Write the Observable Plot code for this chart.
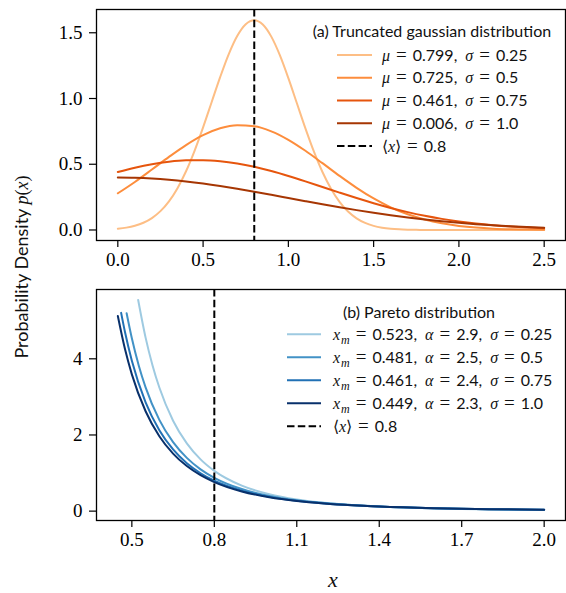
<!DOCTYPE html>
<html>
<head>
<meta charset="utf-8">
<script src="https://cdn.jsdelivr.net/npm/d3@7"></script>
<script src="https://cdn.jsdelivr.net/npm/@observablehq/plot@0.6"></script>
<style>
  html, body { margin: 0; padding: 0; background: white; }
  #fig { position: relative; width: 566px; height: 593px; background: white; overflow: hidden; }
  #fig > svg { position: absolute; left: 0; }
</style>
</head>
<body>
<div id="fig"></div>
<script>
// ---------- data ----------
const meanX = 0.8;

// (a) truncated gaussian densities
const gaussXFine = [0,0.05,0.1,0.15,0.2,0.25,0.3,0.35,0.4,0.45,0.5,0.55,0.6,0.65,0.7,0.75,0.8,0.85,0.9,0.95,1.0,1.05,1.1,1.15,1.2,1.25,1.3,1.35,1.4,1.45,1.5,1.55,1.6,1.65,1.7,1.75,1.8,1.85,1.9,1.95,2.0,2.05,2.1,2.15,2.2,2.25,2.3,2.35,2.4,2.45,2.5];
const gaussX = [0,0.1,0.2,0.3,0.4,0.5,0.6,0.7,0.8,0.9,1.0,1.1,1.2,1.3,1.4,1.5,1.6,1.7,1.8,1.9,2.0,2.1,2.2,2.3,2.4,2.5];
const gauss1 = [0.0097,0.0179,0.0320,0.0549,0.0905,0.1432,0.2177,0.3180,0.4465,0.6023,0.7805,0.9717,1.1625,1.3362,1.4755,1.5655,1.5958,1.5629,1.4707,1.3298,1.1551,0.9640,0.7730,0.5956,0.4409,0.3136,0.2143,0.1406,0.0887,0.0538,0.0313,0.0175,0.0094,0.0049,0.0024,0.0011,0.0005,0.0002,0.0001,0,0,0,0,0,0,0,0,0,0,0,0];
const gauss2 = [0.2789,0.3653,0.4598,0.5560,0.6459,0.7211,0.7733,0.7969,0.7890,0.7505,0.6859,0.6023,0.5081,0.4119,0.3208,0.2400,0.1726,0.1192,0.0791,0.0504,0.0309,0.0182,0.0103,0.0056,0.0029,0.0015];
const gauss3 = [0.4404,0.4737,0.5006,0.5198,0.5301,0.5312,0.5229,0.5056,0.4803,0.4482,0.4108,0.3700,0.3273,0.2845,0.2429,0.2038,0.1679,0.1359,0.1081,0.0844,0.0648,0.0488,0.0362,0.0263,0.0188,0.0132];
const gauss4 = [0.3989,0.3971,0.3915,0.3820,0.3691,0.3531,0.3344,0.3135,0.2911,0.2675,0.2434,0.2193,0.1956,0.1727,0.1510,0.1307,0.1120,0.0950,0.0798,0.0663,0.0546,0.0445,0.0359,0.0287,0.0227,0.0178];
const gaussMu = ["0.799","0.725","0.461","0.006"];
const gaussSigma = ["0.25","0.5","0.75","1.0"];
const gaussColors = ["#fdbe85","#fd8d3c","#e6550d","#a63603"];

// (b) pareto densities
const paretoX1 = [0.523,0.55,0.575,0.6,0.65,0.7,0.75,0.8,0.9,1.0,1.1,1.2,1.3,1.4,1.6,1.8,2.0];
const pareto1  = [5.545,4.556,3.832,3.246,2.375,1.779,1.359,1.057,0.668,0.443,0.305,0.217,0.159,0.119,0.071,0.045,0.030];
const paretoX2 = [0.481,0.5,0.525,0.55,0.6,0.65,0.7,0.75,0.8,0.9,1.0,1.1,1.2,1.3,1.4,1.6,1.8,2.0];
const pareto2  = [5.198,4.539,3.826,3.251,2.397,1.812,1.398,1.098,0.876,0.580,0.401,0.287,0.212,0.160,0.124,0.078,0.051,0.036];
const paretoX3 = [0.461,0.475,0.5,0.55,0.6,0.65,0.7,0.75,0.8,0.9,1.0,1.1,1.2,1.3,1.4,1.6,1.8,2.0];
const pareto3  = [5.206,4.702,3.950,2.857,2.125,1.619,1.258,0.995,0.799,0.535,0.374,0.271,0.201,0.153,0.119,0.076,0.051,0.036];
const paretoX4 = [0.449,0.475,0.5,0.55,0.6,0.65,0.7,0.75,0.8,0.9,1.0,1.1,1.2,1.3,1.4,1.6,1.8,2.0];
const pareto4  = [5.123,4.255,3.592,2.623,1.968,1.511,1.183,0.943,0.762,0.516,0.365,0.266,0.200,0.153,0.120,0.077,0.052,0.037];
const paretoXm = ["0.523","0.481","0.461","0.449"];
const paretoAlpha = ["2.9","2.5","2.4","2.3"];
const paretoSigma = ["0.25","0.5","0.75","1.0"];
const paretoColors = ["#9ecae1","#4292c6","#2171b5","#08306b"];

// ticks
const topXTicks = [0,0.5,1.0,1.5,2.0,2.5];
const topYTicks = [0,0.5,1.0,1.5];
const botXTicks = [0.5,0.8,1.1,1.4,1.7,2.0];
const botYTicks = [0,2,4];

const titleA = "(a) Truncated gaussian distribution";
const titleB = "(b) Pareto distribution";
const yLabelText = "Probability Density ";
const xLabelText = "x";

// ---------- build tables ----------
function series(xs, ys, k) { return xs.map((x, i) => ({x, y: ys[i], k})); }
const gaussData = [
  ...series(gaussXFine, gauss1, 0),
  ...series(gaussX, gauss2, 1),
  ...series(gaussX, gauss3, 2),
  ...series(gaussX, gauss4, 3)
];
const paretoData = [
  ...series(paretoX1, pareto1, 0),
  ...series(paretoX2, pareto2, 1),
  ...series(paretoX3, pareto3, 2),
  ...series(paretoX4, pareto4, 3)
];

const SERIF = "Liberation Serif";
const SANS = "Lato";
const DASH = "7.5,3.3";
const TICK_FS = 19;

const fig = document.getElementById("fig");

const common = {
  width: 566,
  marginLeft: 96,
  marginRight: 1,
  style: {fontFamily: SERIF, fontSize: TICK_FS + "px", color: "black", background: "transparent", overflow: "visible"}
};
const axisOpts = {tickSize: 7, label: null, strokeWidth: 1.2, fontSize: TICK_FS, fontFamily: SERIF};

const topPlot = Plot.plot({
  ...common,
  height: 280,
  marginTop: 9,
  marginBottom: 40,
  x: {domain: [-0.125, 2.625]},
  y: {domain: [-0.08, 1.677]},
  marks: [
    Plot.line(gaussData, {x: "x", y: "y", z: "k", stroke: d => gaussColors[d.k], strokeWidth: 2, curve: "monotone-x"}),
    Plot.ruleX([meanX], {stroke: "black", strokeWidth: 2, strokeDasharray: DASH}),
    Plot.axisX({...axisOpts, ticks: topXTicks, tickFormat: d3.format(".1f"), tickPadding: 5}),
    Plot.axisY({...axisOpts, ticks: topYTicks, tickFormat: d3.format(".1f"), tickPadding: 7}),
    Plot.frame({stroke: "black", strokeWidth: 1.3})
  ]
});
topPlot.style.top = "0px";
fig.appendChild(topPlot);

const botPlot = Plot.plot({
  ...common,
  height: 313,
  marginTop: 9,
  marginBottom: 73,
  x: {domain: [0.3714, 2.0776]},
  y: {domain: [-0.246, 5.82]},
  marks: [
    Plot.line(paretoData, {x: "x", y: "y", z: "k", stroke: d => paretoColors[d.k], strokeWidth: 2, curve: "monotone-x"}),
    Plot.ruleX([meanX], {stroke: "black", strokeWidth: 2, strokeDasharray: DASH}),
    Plot.axisX({...axisOpts, ticks: botXTicks, tickFormat: d3.format(".1f"), tickPadding: 5}),
    Plot.axisY({...axisOpts, ticks: botYTicks, tickFormat: d3.format("d"), tickPadding: 7}),
    Plot.frame({stroke: "black", strokeWidth: 1.3})
  ]
});
botPlot.style.top = "280px";
fig.appendChild(botPlot);

// ---------- overlay: legends and axis labels ----------
const ov = d3.select(fig).append("svg")
  .attr("width", 566).attr("height", 593)
  .style("top", "0px").style("pointer-events", "none");

// parts: [text, kind, dx]
function rich(sel, parts) {
  let sub = false;
  parts.forEach(([s, kind, dx]) => {
    const t = sel.append("tspan").text(s);
    if (dx) t.attr("dx", dx);
    if (kind === "m") t.style("font-family", SERIF).style("font-style", "italic");
    else if (kind === "r") t.style("font-family", SERIF);
    else if (kind === "eq") t.style("font-family", SERIF).style("font-size", "19px");
    else if (kind === "sub") t.style("font-family", SERIF).style("font-style", "italic").style("font-size", "12px");
    else t.style("font-family", SANS);
    if (kind === "sub") { t.attr("dy", 4); sub = true; }
    else if (sub) { t.attr("dy", -4); sub = false; }
  });
}

const LEG_FS = 16;
const EQ = 6, CM = 8;
function legend(opts) {
  const g = ov.append("g").style("font-size", LEG_FS + "px").attr("fill", "#111");
  g.append("text").attr("x", opts.titleX).attr("y", opts.titleY).attr("dy", "0.35em")
    .attr("text-anchor", "middle").style("font-family", SANS).text(opts.title);
  opts.rows.forEach((parts, i) => {
    const y = opts.y0 + i * opts.dy;
    g.append("line").attr("x1", opts.lx1).attr("x2", opts.lx2).attr("y1", y).attr("y2", y)
      .attr("stroke", opts.colors[i]).attr("stroke-width", 2)
      .attr("stroke-dasharray", opts.colors[i] === "black" ? DASH : null);
    const t = g.append("text").attr("x", opts.tx).attr("y", y).attr("dy", "0.35em");
    rich(t, parts);
  });
}

const meanRow = [["\u27E8", "r"], ["x", "m"], ["\u27E9", "r"], ["=", "eq", EQ], [String(meanX), "s", EQ]];

legend({
  title: titleA, titleX: 432, titleY: 31,
  lx1: 337, lx2: 372, tx: 382, y0: 55, dy: 22.75,
  colors: [...gaussColors, "black"],
  rows: [
    ...gaussMu.map((m, i) => [["\u03BC", "m"], ["=", "eq", EQ], [m + ",", "s", EQ], ["\u03C3", "m", CM], ["=", "eq", EQ], [gaussSigma[i], "s", EQ]]),
    meanRow
  ]
});

legend({
  title: titleB, titleX: 419, titleY: 312.3,
  lx1: 287, lx2: 321, tx: 333, y0: 334.3, dy: 23,
  colors: [...paretoColors, "black"],
  rows: [
    ...paretoXm.map((m, i) => [["x", "m"], ["m", "sub", 1], ["=", "eq", EQ], [m + ",", "s", EQ], ["\u03B1", "m", CM], ["=", "eq", EQ], [paretoAlpha[i] + ",", "s", EQ], ["\u03C3", "m", CM], ["=", "eq", EQ], [paretoSigma[i], "s", EQ]]),
    meanRow
  ]
});

// y label
const yl = ov.append("text")
  .attr("transform", "translate(22,267) rotate(-90)")
  .attr("text-anchor", "middle").attr("dy", "0.35em")
  .style("font-size", "18px").attr("fill", "#111");
rich(yl, [[yLabelText, "s"], ["p", "m"], ["(", "r"], ["x", "m"], [")", "r"]]);

// x label
ov.append("text").attr("x", 333).attr("y", 587)
  .attr("text-anchor", "middle").style("font-size", "22px")
  .style("font-family", SERIF).style("font-style", "italic").attr("fill", "#111")
  .text(xLabelText);
</script>
</body>
</html>
